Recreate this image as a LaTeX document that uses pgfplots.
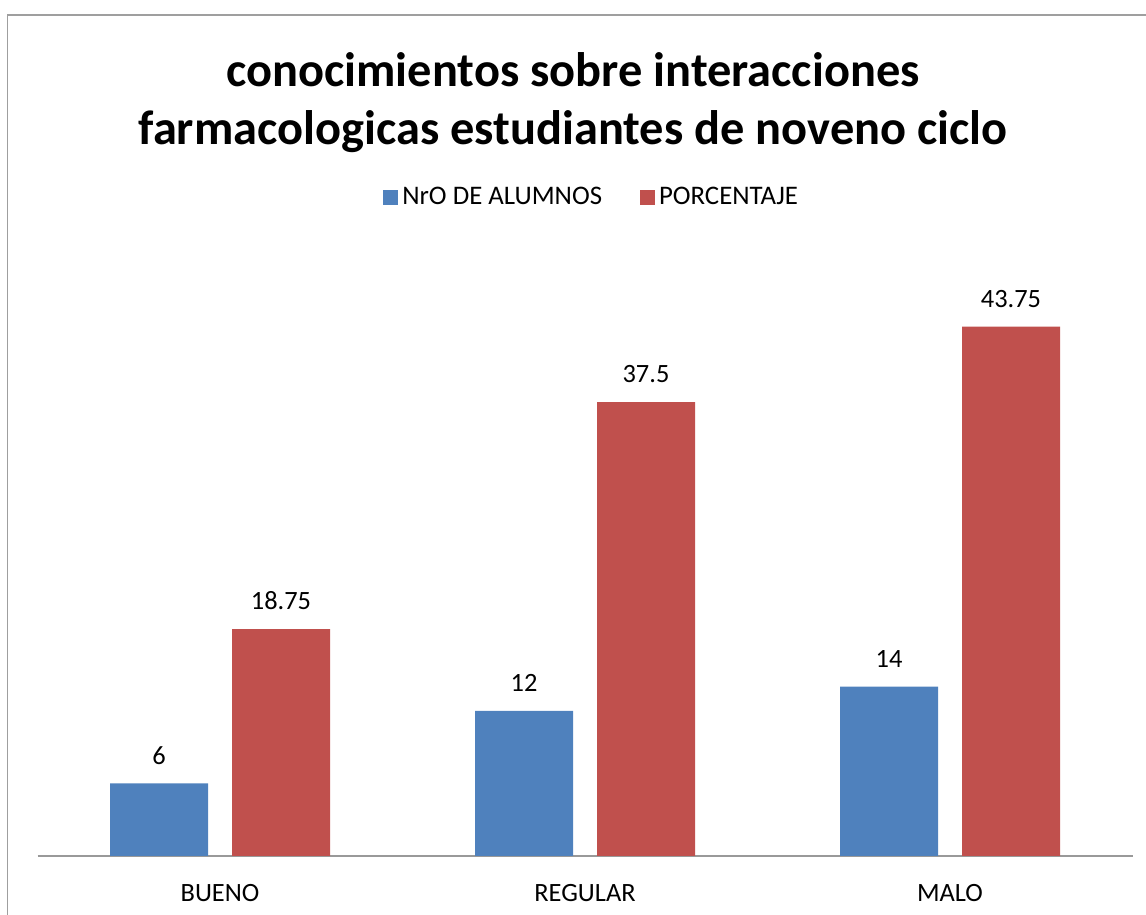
\documentclass[border=0pt]{standalone}
\usepackage{pgfplots}
\pgfplotsset{compat=1.18}
\usepackage{fontspec}
\setmainfont{Carlito}
\definecolor{cblue}{HTML}{4F81BD}
\definecolor{cred}{HTML}{C0504D}
\begin{document}
\begin{tikzpicture}
\useasboundingbox (-18.75pt,-29.5pt) rectangle (554.25pt,428pt);
\draw[gray!75, line width=0.7pt] (-15pt,-40pt) -- (-15pt,420.5pt) -- (600pt,420.5pt);
\begin{axis}[
  at={(0pt,0pt)}, anchor=south west,
  scale only axis, width=547.5pt, height=302.5pt,
  xmin=-0.5, xmax=2.5, ymin=0, ymax=50,
  axis y line=none, axis x line*=bottom,
  x axis line style={gray!80, line width=0.7pt, -},
  xtick={0,1,2}, xticklabels={BUENO,REGULAR,MALO},
  major tick length=0pt,
  xticklabel style={font=\fontsize{13.2pt}{15pt}\selectfont, yshift=-10.5pt},
  ybar, bar width=49pt,
  nodes near coords,
  /pgf/number format/assume math mode=true,
  every node near coord/.append style={font=\fontsize{13.2pt}{15pt}\selectfont, black, yshift=6pt},
  legend style={at={(0.507,1.089)}, anchor=center, draw=none, fill=none,
    font=\fontsize{13.4pt}{15pt}\selectfont, legend columns=2,
    /tikz/every even column/.append style={column sep=17pt}},
  legend image code/.code={\fill[#1] (0pt,-3.75pt) rectangle (7.5pt,3.75pt);},
]
\addplot[fill=cblue, draw=none, bar shift=-30.5pt] coordinates {(0,6) (1,12) (2,14)};
\addplot[fill=cred, draw=none, bar shift=30.5pt] coordinates {(0,18.75) (1,37.5) (2,43.75)};
\legend{NrO DE ALUMNOS, PORCENTAJE}
\end{axis}
\node[align=center, font=\fontsize{24.2pt}{29pt}\selectfont\bfseries] at (267.75pt,376.75pt)
  {conocimientos sobre interacciones\\farmacologicas estudiantes de noveno ciclo};
\end{tikzpicture}
\end{document}
